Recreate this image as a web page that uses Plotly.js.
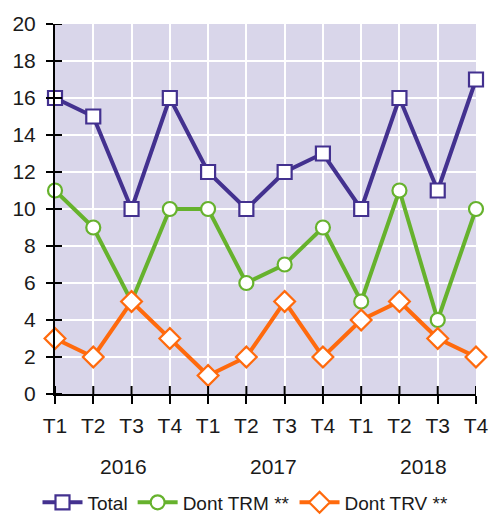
<!DOCTYPE html>
<html><head><meta charset="utf-8">
<script src="https://cdn.plot.ly/plotly-3.0.1.min.js"></script>
<style>html,body{margin:0;padding:0;background:#fff}</style>
</head><body><div id="chart" style="width:491px;height:518px"></div>
<script>
var quarters = ["T1","T2","T3","T4","T1","T2","T3","T4","T1","T2","T3","T4"];
var years = ["2016","2017","2018"];
var yearPos = [1.78, 5.7, 9.64];
var yTicks = [0,2,4,6,8,10,12,14,16,18,20];
var total = [16,15,10,16,12,10,12,13,10,16,11,17];
var dontTRM = [11,9,5,10,10,6,7,9,5,11,4,10];
var dontTRV = [3,2,5,3,1,2,5,2,4,5,3,2];
var seriesNames = ["Total","Dont TRM **","Dont TRV **"];

var idx = quarters.map(function(_, i){return i;});
var font = "Liberation Sans, Arial, sans-serif";

function tr(y, name, color, symbol, size){
  return {x: idx, y: y, name: name, type: "scatter", mode: "lines+markers",
    line: {color: color, width: 4}, cliponaxis: false,
    marker: {symbol: symbol, size: size, color: "#ffffff", line: {color: color, width: 2.2}}};
}
var data = [
  tr(total, seriesNames[0], "#43318f", "square", 14),
  tr(dontTRM, seriesNames[1], "#66b22d", "circle", 14),
  tr(dontTRV, seriesNames[2], "#ff6a0d", "diamond", 16)
];

// inner half of the crossing tick marks (outer half comes from the axes)
var shapes = [];
idx.forEach(function(v){
  shapes.push({type: "line", layer: "above", xref: "x", x0: v, x1: v, yref: "paper", ysizemode: "pixel", yanchor: 0, y0: 0, y1: 8,
    line: {color: "#000000", width: 2}});
});
yTicks.forEach(function(v){
  shapes.push({type: "line", layer: "above", yref: "y", y0: v, y1: v, xref: "paper", xsizemode: "pixel", xanchor: 0, x0: 0, x1: 7,
    line: {color: "#000000", width: 2}});
});

var layout = {
  width: 491, height: 518,
  margin: {l: 55, r: 15, t: 24, b: 124},
  paper_bgcolor: "#ffffff", plot_bgcolor: "#d9d6ea",
  font: {family: font, size: 21, color: "#1a1a1a"},
  showlegend: true,
  legend: {orientation: "h", x: 0.5, xanchor: "center", xref: "container", y: 0.03, yanchor: "middle", yref: "container",
    font: {family: font, size: 19, color: "#1a1a1a"}, itemwidth: 40, tracegroupgap: 0},
  xaxis: {range: [0, 11], tickmode: "array", tickvals: idx, ticktext: quarters,
    showgrid: true, gridcolor: "#ffffff", gridwidth: 2, zeroline: false,
    showline: true, linecolor: "#000000", linewidth: 2,
    ticks: "outside", ticklen: 8, tickwidth: 2, tickcolor: "#000000", ticklabelstandoff: 4,
    tickfont: {size: 21}, fixedrange: true},
  yaxis: {range: [0, 20], tickmode: "array", tickvals: yTicks,
    showgrid: true, gridcolor: "#ffffff", gridwidth: 2, zeroline: false,
    showline: true, linecolor: "#000000", linewidth: 2,
    ticks: "outside", ticklen: 7, tickwidth: 2, tickcolor: "#000000", ticklabelstandoff: 6,
    tickfont: {size: 21}, fixedrange: true},
  shapes: shapes,
  annotations: years.map(function(yr, i){
    return {text: yr, x: yearPos[i], xref: "x", y: -0.197, yref: "paper",
      xanchor: "center", yanchor: "middle", showarrow: false, font: {size: 21, color: "#1a1a1a"}};
  })
};
Plotly.newPlot("chart", data, layout, {displayModeBar: false});
</script></body></html>
